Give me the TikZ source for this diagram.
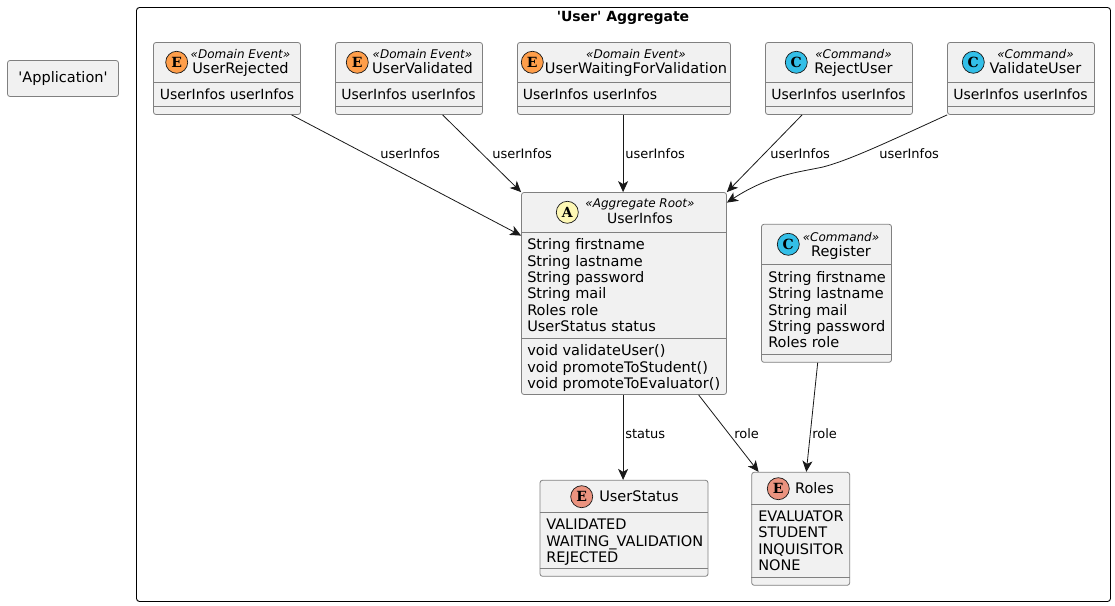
\documentclass[tikz,border=0pt]{standalone}
\usepackage{fontspec}
\usepackage{tikz}
\usetikzlibrary{arrows.meta}
\setmainfont{DejaVu Sans}
\newfontfamily\spotfont{DejaVu Serif}

\definecolor{boxfill}{HTML}{F1F1F1}
\definecolor{boxline}{HTML}{808080}
\definecolor{inkline}{HTML}{181818}
\definecolor{eventspot}{HTML}{FF9E4A}
\definecolor{commandspot}{HTML}{33BFE8}
\definecolor{rootspot}{HTML}{FEF8B5}
\definecolor{enumspot}{HTML}{EB937F}

\def\px{.75pt}

\tikzset{
	classbox/.style={draw=boxline, fill=boxfill, line width=.8*\px, rounded corners=2.5*\px, inner sep=0pt},
	sepline/.style={draw=boxline, line width=.8*\px},
	spot/.style={circle, draw=inkline, line width=.7*\px, minimum size=22*\px, inner sep=0pt, font=\spotfont\bfseries\fontsize{10.5}{11}\selectfont},
	stereo/.style={anchor=base, inner sep=0pt, font=\itshape\fontsize{9}{10}\selectfont},
	classname/.style={anchor=base, inner sep=0pt, font=\fontsize{10.9}{12}\selectfont},
	member/.style={anchor=base west, inner sep=0pt, font=\fontsize{10.9}{12}\selectfont},
	eventfield/.style={anchor=base west, inner sep=0pt, font=\fontsize{10.5}{12}\selectfont},
	linklabel/.style={anchor=base west, inner sep=0pt, font=\fontsize{9.75}{11}\selectfont},
	link/.style={->, inkline, line width=.8*\px},
}

\begin{document}
\begin{tikzpicture}[x=.75pt, y=-.75pt, >={Stealth[length=11*\px, width=10*\px, inset=3*\px]}]
	\useasboundingbox (0,0) rectangle (1115,606);

	% outer frame and the lone box
	\node[draw=black, line width=.9*\px, rounded corners=3*\px, minimum width=974*\px, minimum height=594*\px, inner sep=0pt] (aggregate) at (623.5,304.5) {};
	\node[anchor=base, inner sep=0pt, font=\bfseries\fontsize{10.5}{12}\selectfont] (aggregatetitle) at (623,21.5) {\textquotesingle User\textquotesingle{} Aggregate};
	\node[classbox, minimum width=111*\px, minimum height=36*\px] (application) at (63,78.5) {};
	\node[classname] (applicationname) at (63,83) {\textquotesingle Application\textquotesingle};

	% top row
	\foreach \boxname/\boxx/\boxw/\fieldx/\spotx/\spotcol/\spotchar/\stereotxt/\textx/\nametxt in {
		rejected/227/147/159.5/176.7/eventspot/E/Domain Event/240.5/UserRejected,
		validated/409/147/341/357.3/eventspot/E/Domain Event/422.5/UserValidated,
		waiting/624/213/522.5/532.3/eventspot/E/Domain Event/636/UserWaitingForValidation,
		rejectuser/839/147/771/796.3/commandspot/C/Command/853.5/RejectUser,
		validateuser/1021/147/953/973.3/commandspot/C/Command/1035.5/ValidateUser}
	{
		\node[classbox, minimum width=\boxw*\px, minimum height=72*\px] (\boxname) at (\boxx,78.5) {};
		\draw[sepline] (\boxname.west |- 0,82.5) -- (\boxname.east |- 0,82.5);
		\draw[sepline] (\boxname.west |- 0,106.5) -- (\boxname.east |- 0,106.5);
		\node[spot, fill=\spotcol] (\boxname spot) at (\spotx,62.3) {\spotchar};
		\node[stereo] (\boxname stereo) at (\textx,58.3) {«\stereotxt»};
		\node[classname] (\boxname name) at (\textx,74) {\nametxt};
		\node[eventfield] (\boxname field) at (\fieldx,99.3) {UserInfos userInfos};
	}

	% aggregate root
	\node[classbox, minimum width=205*\px, minimum height=202*\px] (userinfos) at (624,293.5) {};
	\draw[sepline] (userinfos.west |- 0,232.3) -- (userinfos.east |- 0,232.3);
	\draw[sepline] (userinfos.west |- 0,338.3) -- (userinfos.east |- 0,338.3);
	\node[spot, fill=rootspot] (userinfosspot) at (567.3,212.3) {A};
	\node[stereo] (userinfosstereo) at (640,208) {«Aggregate Root»};
	\node[classname, font=\fontsize{10.5}{12}\selectfont] (userinfosname) at (640,224) {UserInfos};
	\foreach \txt [count=\i from 0] in {String firstname, String lastname, String password, String mail, Roles role, UserStatus status}
		\node[member] (userinfosfield\i) at (527,249.7+16.33*\i) {\txt};
	\foreach \txt [count=\i from 0] in {void validateUser(), void promoteToStudent(), void promoteToEvaluator()}
		\node[member] (userinfosmethod\i) at (527,355.7+16.33*\i) {\txt};

	% register command
	\node[classbox, minimum width=130*\px, minimum height=138*\px] (register) at (826.5,293.3) {};
	\draw[sepline] (register.west |- 0,264.7) -- (register.east |- 0,264.7);
	\draw[sepline] (register.west |- 0,354.3) -- (register.east |- 0,354.3);
	\node[spot, fill=commandspot] (registerspot) at (788.3,244.3) {C};
	\node[stereo] (registerstereo) at (841,241.3) {«Command»};
	\node[classname] (registername) at (841,256.5) {Register};
	\foreach \txt [count=\i from 0] in {String firstname, String lastname, String mail, String password, Roles role}
		\node[member] (registerfield\i) at (768,282.5+16.33*\i) {\txt};

	% enums
	\node[classbox, minimum width=168*\px, minimum height=96*\px] (userstatus) at (624,528.3) {};
	\draw[sepline] (userstatus.west |- 0,512.3) -- (userstatus.east |- 0,512.3);
	\draw[sepline] (userstatus.west |- 0,568.3) -- (userstatus.east |- 0,568.3);
	\node[spot, fill=enumspot] (userstatusspot) at (581.7,496.7) {E};
	\node[classname] (userstatusname) at (639,501.2) {UserStatus};
	\foreach \txt [count=\i from 0] in {VALIDATED, WAITING\_VALIDATION, REJECTED}
		\node[member] (userstatusfield\i) at (546,529.8+16.33*\i) {\txt};

	\node[classbox, minimum width=98*\px, minimum height=113*\px] (roles) at (800.7,528.8) {};
	\draw[sepline] (roles.west |- 0,504.3) -- (roles.east |- 0,504.3);
	\draw[sepline] (roles.west |- 0,577.3) -- (roles.east |- 0,577.3);
	\node[spot, fill=enumspot] (rolesspot) at (778.3,488.7) {E};
	\node[classname] (rolesname) at (814.5,493.2) {Roles};
	\foreach \txt [count=\i from 0] in {EVALUATOR, STUDENT, INQUISITOR, NONE}
		\node[member] (rolesfield\i) at (758,521.5+16.33*\i) {\txt};

	% links
	\coordinate (validatebend) at (823,167);
	\draw[link] ([shift={(138.5,0)}]rejected.south west) -- ([shift={(0,43.5)}]userinfos.north west);
	\draw[link] ([shift={(107.5,0)}]validated.south west) -- (userinfos.north west);
	\draw[link] ([shift={(106,0)}]waiting.south west) -- ([shift={(102,0)}]userinfos.north west);
	\draw[link] ([shift={(37,0)}]rejectuser.south west) -- (userinfos.north east);
	\draw[link] (validateuser.south west) .. controls +(-57,26) and +(27,-7) .. (validatebend) .. controls +(-23,5) and +(43,-28) .. ([shift={(0,10.5)}]userinfos.north east);
	\draw[link] ([shift={(102,0)}]userinfos.south west) -- ([shift={(83.5,0)}]userstatus.north west);
	\draw[link] ([shift={(177.5,0)}]userinfos.south west) -- ([shift={(7.3,0)}]roles.north west);
	\draw[link] ([shift={(56.6,0)}]register.south west) -- ([shift={(55,0)}]roles.north west);

	% link labels
	\foreach \labname/\labx/\laby/\labtxt in {
		labrejected/380/158.5/userInfos, labvalidated/492/158.5/userInfos, labwaiting/625/158.5/userInfos,
		labrejectuser/770/158.5/userInfos, labvalidateuser/879/158.5/userInfos,
		labstatus/625/438.5/status, labroleleft/734/438.5/role, labroleright/812/438.5/role}
		\node[linklabel] (\labname) at (\labx,\laby) {\labtxt};
\end{tikzpicture}
\end{document}
